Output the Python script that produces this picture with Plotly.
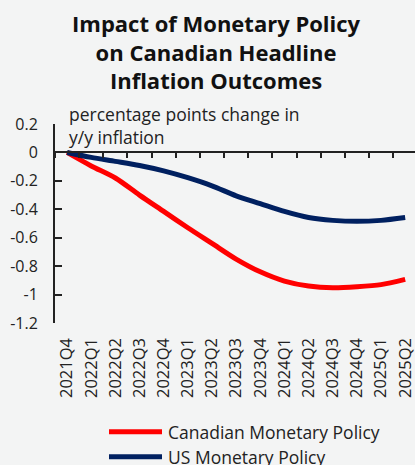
import plotly.graph_objects as go

quarters = ["2021Q4", "2022Q1", "2022Q2", "2022Q3", "2022Q4", "2023Q1", "2023Q2",
            "2023Q3", "2023Q4", "2024Q1", "2024Q2", "2024Q3", "2024Q4", "2025Q1", "2025Q2"]
canadian_policy = [0.0, -0.095, -0.18, -0.30, -0.415, -0.53, -0.64, -0.75,
                   -0.84, -0.905, -0.94, -0.952, -0.945, -0.93, -0.893]
us_policy = [0.0, -0.035, -0.063, -0.092, -0.13, -0.178, -0.235, -0.305,
             -0.36, -0.415, -0.458, -0.478, -0.485, -0.478, -0.458]
series_names = ["Canadian Monetary Policy", "US Monetary Policy"]
series_colors = ["#FF0000", "#002060"]
y_tick_values = [0.2, 0, -0.2, -0.4, -0.6, -0.8, -1, -1.2]
y_tick_labels = ["0.2", "0", "-0.2", "-0.4", "-0.6", "-0.8", "-1", "-1.2"]

FONT = "Open Sans"
W, H = 415, 465
ML, MR, MT, MB = 55, 0, 123.5, 142

fig = go.Figure()
for name, vals, col in zip(series_names, [canadian_policy, us_policy], series_colors):
    fig.add_trace(go.Scatter(x=quarters, y=vals, mode="lines", name=name,
                             line=dict(color=col, width=5, shape="spline", smoothing=0.8),
                             showlegend=False))

y_lo, y_hi = -1.2, 0.2
zero_pos = (0 - y_lo) / (y_hi - y_lo)

fig.update_layout(
    width=W, height=H,
    margin=dict(l=ML, r=MR, t=MT, b=MB, autoexpand=False),
    paper_bgcolor="#F3F4F4", plot_bgcolor="#F3F4F4",
    font=dict(family=FONT, color="#222222"),
    xaxis=dict(type="category", categoryorder="array", categoryarray=quarters,
               range=[-0.5, 14.407], anchor="free", position=zero_pos,
               showline=True, linecolor="#222222", linewidth=2,
               ticks="outside", ticklen=5, tickwidth=1.5, tickcolor="#222222",
               tickson="boundaries", tickangle=-90, ticklabelstandoff=178,
               tickfont=dict(size=16.5, color="#222222"), showgrid=False, zeroline=False,
               automargin=False),
    yaxis=dict(range=[y_lo, y_hi], tickvals=y_tick_values, ticktext=y_tick_labels,
               showline=True, linecolor="#222222", linewidth=2,
               ticks="inside", ticklen=7, tickwidth=1.5, tickcolor="#222222",
               ticklabelstandoff=12,
               tickfont=dict(size=16, color="#222222"), showgrid=False, zeroline=False,
               automargin=False),
    showlegend=False,
)

fig.add_annotation(text="<b>Impact of Monetary Policy<br>on Canadian Headline<br>Inflation Outcomes</b>",
                   xref="paper", yref="paper", x=(216 - ML) / (W - ML - MR), y=(H - 5 - MB) / (H - MT - MB),
                   xanchor="center", yanchor="top", showarrow=False, align="center",
                   font=dict(size=22, color="#111111", family=FONT))
fig.add_annotation(text="percentage points change in<br>y/y inflation",
                   xref="paper", yref="paper", x=(67 - ML) / (W - ML - MR), y=(H - 99 - MB) / (H - MT - MB),
                   xanchor="left", yanchor="top", showarrow=False, align="left",
                   font=dict(size=17.5, color="#222222", family=FONT))

# manual legend
pw, ph = W - ML - MR, H - MT - MB
for k, (name, col) in enumerate(zip(series_names, series_colors)):
    yc = 432 + 25 * k
    yp = (H - MB - yc) / ph
    fig.add_shape(type="line", xref="paper", yref="paper",
                  x0=(109 - ML) / pw, x1=(162 - ML) / pw, y0=yp, y1=yp,
                  line=dict(color=col, width=5))
    fig.add_annotation(text=name, xref="paper", yref="paper", x=(166 - ML) / pw, y=yp,
                       xanchor="left", yanchor="middle", showarrow=False,
                       font=dict(size=17.5, color="#222222", family=FONT))

fig.write_html("out.html")
